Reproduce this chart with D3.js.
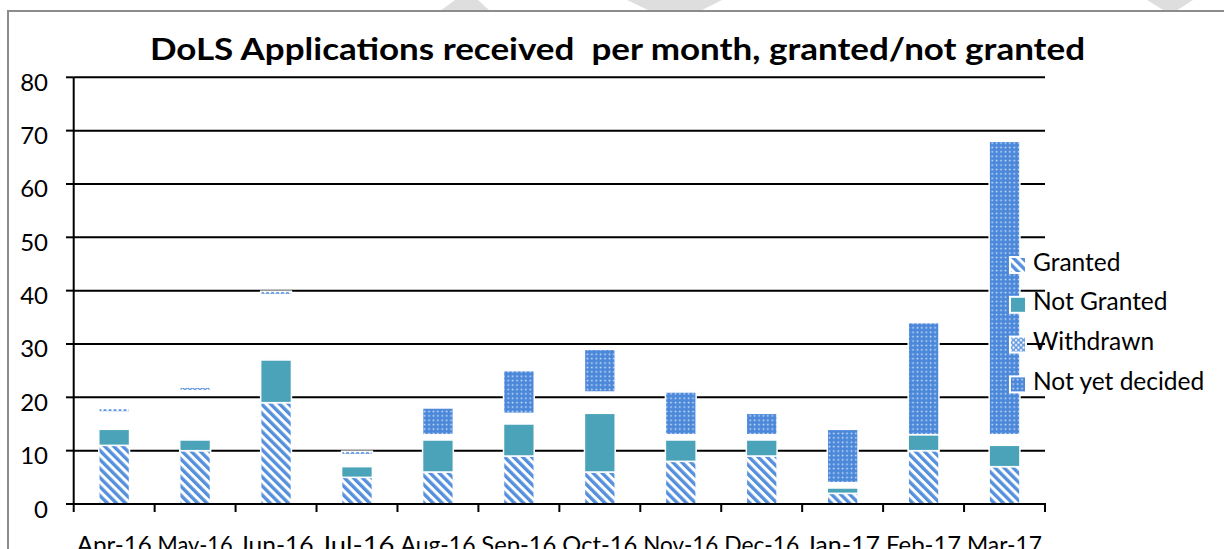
<!DOCTYPE html>
<html>
<head>
<meta charset="utf-8">
<script src="https://cdn.jsdelivr.net/npm/d3@7"></script>
<style>
  body { margin: 0; background: #fff; }
  svg { display: block; font-family: Lato, "Open Sans", sans-serif; }
</style>
</head>
<body>
<div id="chart"></div>
<script>
// data
var months = ["Apr-16", "May-16", "Jun-16", "Jul-16", "Aug-16", "Sep-16", "Oct-16", "Nov-16", "Dec-16", "Jan-17", "Feb-17", "Mar-17"];
var granted = [11, 10, 19, 5, 6, 9, 6, 8, 9, 2, 10, 7];
var notGranted = [3, 2, 8, 2, 6, 6, 11, 4, 3, 1, 3, 4];
var withdrawn = [4, 10, 13, 3, 1, 2, 4, 1, 1, 1, 0, 2];
var notYetDecided = [0, 0, 0, 0, 5, 8, 8, 8, 4, 10, 21, 55];
var seriesNames = ["Granted", "Not Granted", "Withdrawn", "Not yet decided"];
var yTicks = [0, 10, 20, 30, 40, 50, 60, 70, 80];
var title = "DoLS Applications received  per month, granted/not granted";

var width = 1224, height = 549;
var plotLeft = 73.7, plotRight = 1045, plotTop = 77.3, plotBottom = 504;

var svg = d3.select("#chart").append("svg")
	.attr("width", width)
	.attr("height", height);

// fill patterns
var defs = svg.append("defs");
var pg = defs.append("pattern").attr("id", "pGranted")
	.attr("patternUnits", "userSpaceOnUse")
	.attr("width", 6.4).attr("height", 6.4)
	.attr("patternTransform", "rotate(-45)");
pg.append("rect").attr("width", 6.4).attr("height", 6.4).attr("fill", "#fff");
pg.append("rect").attr("width", 3.4).attr("height", 6.4).attr("fill", "#5590dc");

var pn = defs.append("pattern").attr("id", "pNyd")
	.attr("patternUnits", "userSpaceOnUse")
	.attr("width", 4.4).attr("height", 4.4);
pn.append("rect").attr("width", 4.4).attr("height", 4.4).attr("fill", "#4c88da");
pn.append("rect").attr("x", 1.5).attr("y", 1.5).attr("width", 1.5).attr("height", 1.5).attr("fill", "#d8e6f8");

var pw = defs.append("pattern").attr("id", "pWithdrawn")
	.attr("patternUnits", "userSpaceOnUse")
	.attr("width", 5).attr("height", 5);
pw.append("rect").attr("width", 5).attr("height", 5).attr("fill", "#fff");
pw.append("path").attr("d", "M0,0L5,5M5,0L0,5").attr("stroke", "#5a92dc").attr("stroke-width", 1.3);

var fills = ["url(#pGranted)", "#4aa3b8", "url(#pWithdrawn)", "url(#pNyd)"];

// watermark bits above the frame
var marks = [
	[[440, 11], [455, 0], [478, 0], [490, 11]],
	[[627, 0], [722, 0], [700, 11], [650, 11]],
	[[1147, 0], [1193, 0], [1176, 11], [1165, 11]]
];
svg.selectAll(".wm").data(marks).enter().append("polygon")
	.attr("points", function(d) { return d.join(" "); })
	.attr("fill", "#dedede");

// frame
svg.append("path")
	.attr("d", "M8," + height + "V11H" + width)
	.attr("fill", "none")
	.attr("stroke", "#8c8c8c")
	.attr("stroke-width", 2);

var x = d3.scaleBand().domain(months).range([plotLeft, plotRight]).paddingInner(0.62).paddingOuter(0.31);
var xb = d3.scaleBand().domain(months).range([plotLeft, plotRight]);
var y = d3.scaleLinear().domain([0, 80]).range([plotBottom, plotTop]);

// gridlines
svg.append("g").selectAll("line")
	.data(yTicks.slice(1))
	.enter().append("line")
	.attr("x1", plotLeft).attr("x2", plotRight)
	.attr("y1", function(d) { return y(d); })
	.attr("y2", function(d) { return y(d); })
	.attr("stroke", "#000")
	.attr("stroke-width", 2);

// stacked bars
var rows = months.map(function(m, i) {
	return { month: m, Granted: granted[i], "Not Granted": notGranted[i], Withdrawn: withdrawn[i], "Not yet decided": notYetDecided[i] };
});
var stack = d3.stack().keys(seriesNames)(rows);

stack.forEach(function(layer, k) {
	var g = svg.append("g");
	var segs = g.selectAll("rect")
		.data(layer.filter(function(d) { return d[1] > d[0]; }))
		.enter().append("rect")
		.attr("x", function(d) { return x(d.data.month); })
		.attr("width", x.bandwidth())
		.attr("y", function(d) { return y(d[1]); })
		.attr("height", function(d) { return y(d[0]) - y(d[1]); });
	if (k == 2) {
		// withdrawn segments came out empty; only the cap on top of a stack shows
		segs.attr("fill", "none").attr("stroke", "none");
		g.selectAll(".cap")
			.data(layer.filter(function(d) { return d[1] > d[0] && d.data["Not yet decided"] == 0; }))
			.enter().append("rect")
			.attr("x", function(d) { return x(d.data.month); })
			.attr("width", x.bandwidth())
			.attr("y", function(d) { return y(d[1]) + 0.5; })
			.attr("height", 3.5)
			.attr("fill", fills[k])
			.attr("stroke", "#fff")
			.attr("stroke-width", 1.5);
	} else {
		segs.attr("fill", fills[k])
			.attr("stroke", "#fdfdfd")
			.attr("stroke-width", 1.5);
	}
});

// axes
var yAxis = svg.append("g");
yAxis.append("line")
	.attr("x1", plotLeft).attr("x2", plotLeft)
	.attr("y1", plotTop).attr("y2", plotBottom)
	.attr("stroke", "#000").attr("stroke-width", 2);
yAxis.selectAll(".tick")
	.data(yTicks)
	.enter().append("line")
	.attr("x1", 66).attr("x2", plotLeft)
	.attr("y1", function(d) { return y(d); })
	.attr("y2", function(d) { return y(d); })
	.attr("stroke", "#000").attr("stroke-width", 2);
yAxis.selectAll("text")
	.data(yTicks)
	.enter().append("text")
	.attr("x", 48)
	.attr("y", function(d) { return y(d) + 13.5; })
	.attr("text-anchor", "end")
	.style("font-size", "24px")
	.text(function(d) { return d; });

var xAxis = svg.append("g");
xAxis.append("line")
	.attr("x1", plotLeft - 1).attr("x2", plotRight + 1)
	.attr("y1", plotBottom).attr("y2", plotBottom)
	.attr("stroke", "#000").attr("stroke-width", 2);
xAxis.selectAll(".tick")
	.data(months.concat(["end"]))
	.enter().append("line")
	.attr("x1", function(d) { return d == "end" ? plotRight : xb(d); })
	.attr("x2", function(d) { return d == "end" ? plotRight : xb(d); })
	.attr("y1", plotBottom).attr("y2", 512)
	.attr("stroke", "#000").attr("stroke-width", 2);
xAxis.selectAll("text")
	.data(months)
	.enter().append("text")
	.attr("x", function(d) { return xb(d) + xb.bandwidth() / 2; })
	.attr("y", 553)
	.attr("text-anchor", "middle")
	.attr("textLength", 75)
	.attr("lengthAdjust", "spacingAndGlyphs")
	.style("font-size", "23px")
	.text(function(d) { return d; });

// title
svg.append("text")
	.attr("x", 617.5)
	.attr("y", 59.5)
	.attr("text-anchor", "middle")
	.attr("textLength", 935)
	.attr("lengthAdjust", "spacingAndGlyphs")
	.style("white-space", "pre")
	.style("font-size", "31px")
	.style("font-weight", "bold")
	.text(title);

// legend
var legend = svg.append("g").selectAll("g")
	.data(seriesNames)
	.enter().append("g")
	.attr("transform", function(d, i) { return "translate(1011," + (258 + i * 39.8) + ")"; });
legend.append("rect")
	.attr("x", -2).attr("y", -2)
	.attr("width", 18).attr("height", 18)
	.attr("fill", "#fff");
legend.append("rect")
	.attr("width", 14).attr("height", 14)
	.attr("fill", function(d, i) { return fills[i]; });
legend.append("text")
	.attr("x", 22)
	.attr("y", 12.5)
	.style("font-size", "24.5px")
	.text(function(d) { return d; });
</script>
</body>
</html>
